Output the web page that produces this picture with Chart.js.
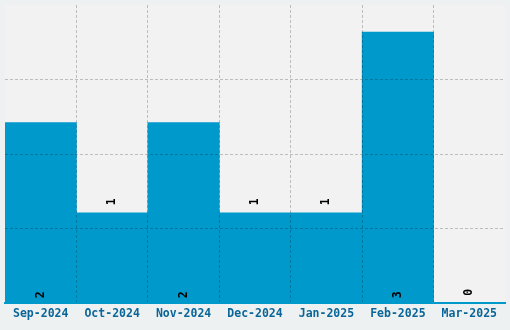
<!DOCTYPE html>
<html>
<head>
<meta charset="utf-8">
<script src="https://cdn.jsdelivr.net/npm/chart.js@4"></script>
<style>
  html, body { margin: 0; padding: 0; background: #eef1f1; }
  #wrap { width: 510px; height: 330px; }
</style>
</head>
<body>
<div id="wrap"><canvas id="chart"></canvas></div>
<script>
// Data
const months = ['Sep-2024', 'Oct-2024', 'Nov-2024', 'Dec-2024', 'Jan-2025', 'Feb-2025', 'Mar-2025'];
const counts = [2, 1, 2, 1, 1, 3, 0];

const barColor = '#0099cc';
const gridColor = 'rgba(0, 0, 0, 0.22)';

// plot area background
const plotBg = {
    id: 'plotBg',
    beforeDraw(chart) {
        const { ctx, chartArea: a } = chart;
        ctx.save();
        ctx.fillStyle = '#f2f2f2';
        ctx.fillRect(a.left, a.top, a.right - a.left, a.bottom - a.top);
        ctx.restore();
    }
};

// rotated value labels
const valueLabels = {
    id: 'valueLabels',
    afterDatasetsDraw(chart) {
        const { ctx } = chart;
        const meta = chart.getDatasetMeta(0);
        ctx.save();
        ctx.fillStyle = '#000';
        ctx.font = 'bold 11.5px "DejaVu Sans Mono"';
        ctx.textAlign = 'center';
        ctx.textBaseline = 'middle';
        meta.data.forEach((bar, i) => {
            const v = counts[i];
            // big bars get the label at the base, small ones above the top
            const y = v >= 2 ? bar.base - 8 : bar.y - 11;
            ctx.save();
            ctx.translate(bar.x, y);
            ctx.rotate(-Math.PI / 2);
            ctx.fillText(String(v), 0, 0);
            ctx.restore();
        });
        ctx.restore();
    }
};

new Chart(document.getElementById('chart'), {
    type: 'bar',
    data: {
        labels: months,
        datasets: [{
            data: counts,
            backgroundColor: barColor,
            borderWidth: 0,
            barPercentage: 1,
            categoryPercentage: 1
        }]
    },
    plugins: [plotBg, valueLabels],
    options: {
        responsive: true,
        maintainAspectRatio: false,
        animation: false,
        layout: { padding: { left: 5, right: 5, top: 5, bottom: 5 } },
        plugins: {
            legend: { display: false },
            tooltip: { enabled: false }
        },
        scales: {
            x: {
                offset: true,
                grid: {
                    z: 1,
                    offset: true,
                    drawTicks: false,
                    lineWidth: 1,
                    color: (c) => (c.tick && c.index > 0) ? gridColor : 'transparent'
                },
                border: { display: true, color: barColor, width: 2, dash: [3, 2], z: 2 },
                ticks: {
                    color: '#0a6699',
                    padding: 4,
                    maxRotation: 0,
                    autoSkip: false,
                    font: { family: 'DejaVu Sans Mono', size: 11.5, weight: 'bold' }
                }
            },
            y: {
                min: 0,
                max: 3.3,
                grid: {
                    z: 1,
                    drawTicks: false,
                    lineWidth: 1,
                    color: (c) => (c.tick && c.index > 0 && c.index < 4) ? gridColor : 'transparent'
                },
                border: { display: false, dash: [3, 2] },
                ticks: { display: false, count: 5 }
            }
        }
    }
});
</script>
</body>
</html>
